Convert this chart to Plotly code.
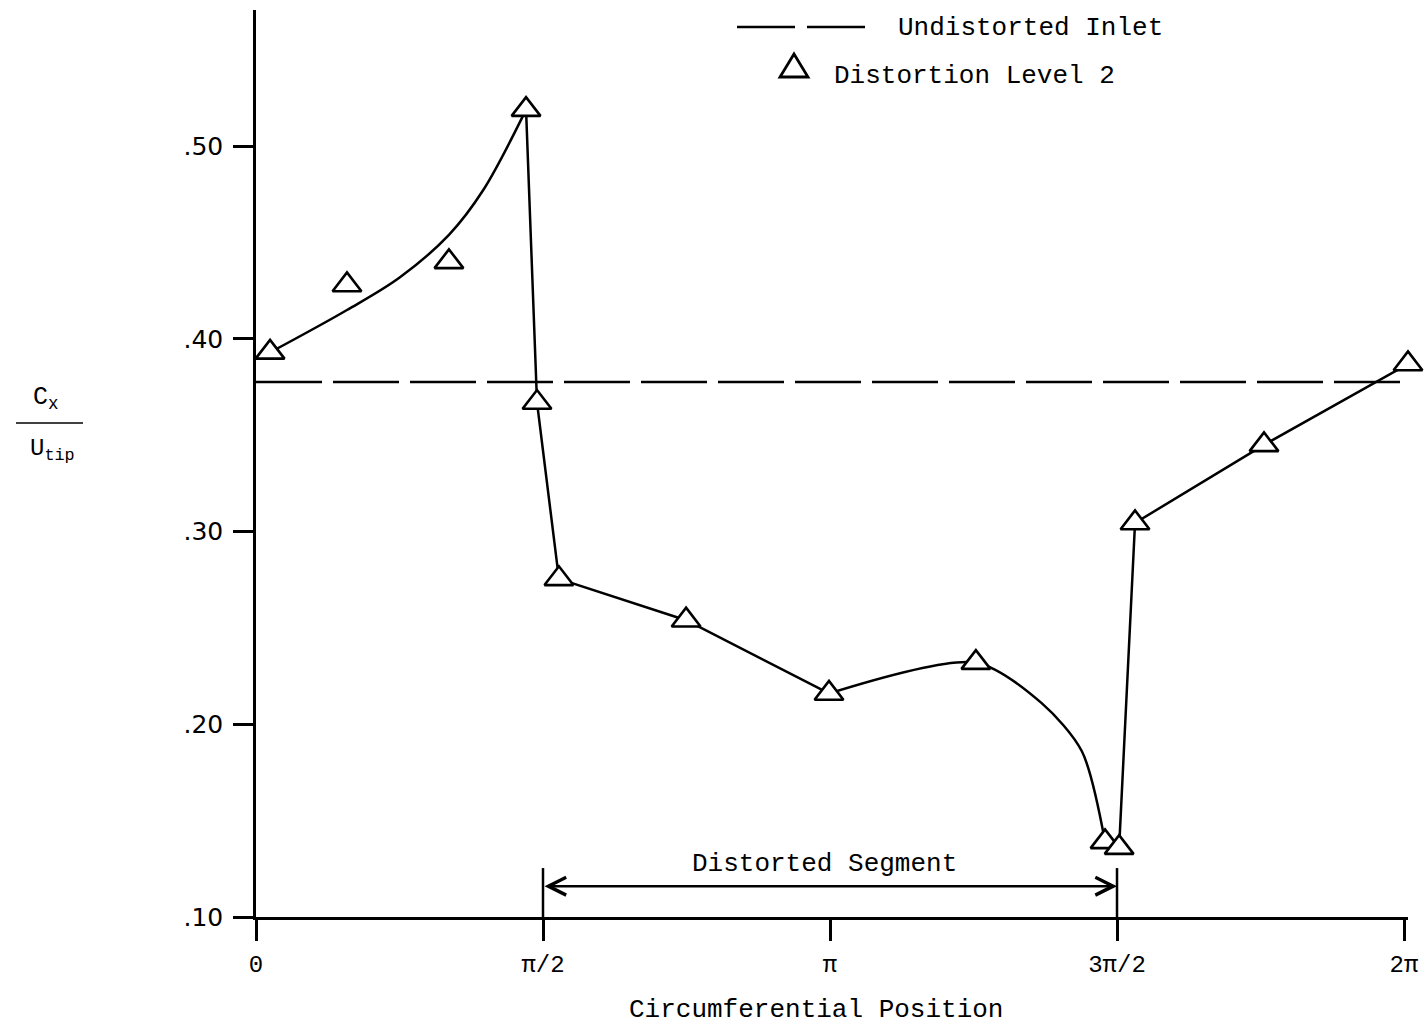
import math
import plotly.graph_objects as go

PI = math.pi

# Measured stations: circumferential position (rad) and Cx/Utip
theta = [0.077, 0.498, 1.056, 1.478, 1.538, 1.658, 2.354, 3.136,
         3.940, 4.647, 4.724, 4.811, 5.517, 6.305]
cx_utip = [0.393, 0.428, 0.440, 0.519, 0.367, 0.2755, 0.254, 0.216,
           0.232, 0.139, 0.136, 0.3045, 0.345, 0.387]

# Undistorted inlet reference level
undistorted_theta = [0.0, 6.33]
undistorted_value = [0.3776, 0.3776]

# Faired curve through the data, in pieces
rise_theta = [0.077, 0.498, 0.788, 1.056, 1.242, 1.478]
rise_value = [0.393, 0.415, 0.432, 0.454, 0.477, 0.519]

drop_theta = [1.478, 1.538, 1.658, 2.354, 3.136]
drop_value = [0.519, 0.367, 0.2755, 0.254, 0.216]

hump_theta = [3.136, 3.940, 4.300, 4.520, 4.647]
hump_value = [0.216, 0.232, 0.211, 0.186, 0.139]

recovery_theta = [4.724, 4.811, 5.517, 6.305]
recovery_value = [0.136, 0.3045, 0.345, 0.387]

# Axis ticks
x_tickvals = [0, PI / 2, PI, 3 * PI / 2, 2 * PI]
x_ticktext = ["0", "π/2", "π", "3π/2", "2π"]
y_tickvals = [0.10, 0.20, 0.30, 0.40, 0.50]
y_ticktext = [".10", ".20", ".30", ".40", ".50"]

# Distorted sector bounds and arrow level
segment_start = PI / 2
segment_end = 3 * PI / 2
segment_arrow_y = 0.116
segment_tick_top = 0.1254

MONO = "Liberation Mono"
INK = "black"
W, H = 1427, 1030
L, R, T, B = 256, 19, 10, 113
PW, PH = W - L - R, H - T - B


def pxx(x):
    return (x - L) / PW


def pxy(y):
    return (H - B - y) / PH


fig = go.Figure()

line_style = dict(color=INK, width=2.5)
fig.add_trace(go.Scatter(x=rise_theta, y=rise_value, mode="lines",
                         line=dict(shape="spline", smoothing=1.0, **line_style),
                         showlegend=False, hoverinfo="skip"))
fig.add_trace(go.Scatter(x=drop_theta, y=drop_value, mode="lines",
                         line=line_style, showlegend=False, hoverinfo="skip"))
fig.add_trace(go.Scatter(x=hump_theta, y=hump_value, mode="lines",
                         line=dict(shape="spline", smoothing=0.8, **line_style),
                         showlegend=False, hoverinfo="skip"))
fig.add_trace(go.Scatter(x=recovery_theta, y=recovery_value, mode="lines",
                         line=line_style, showlegend=False, hoverinfo="skip"))

fig.add_trace(go.Scatter(x=undistorted_theta, y=undistorted_value, mode="lines",
                         line=dict(color=INK, width=2.5, dash="66px,11px"),
                         name="Undistorted Inlet", showlegend=False))

fig.add_trace(go.Scatter(x=theta, y=cx_utip, mode="markers",
                         marker=dict(symbol="triangle-up", size=25, color="white",
                                     line=dict(color=INK, width=2.6)),
                         cliponaxis=False,
                         name="Distortion Level 2", showlegend=False))

shapes = [
    # sector bound ticks
    dict(type="line", xref="x", yref="y", x0=segment_start, x1=segment_start,
         y0=0.10, y1=segment_tick_top, line=dict(color=INK, width=2.5)),
    dict(type="line", xref="x", yref="y", x0=segment_end, x1=segment_end,
         y0=0.10, y1=segment_tick_top, line=dict(color=INK, width=2.5)),
    # legend: dashed line sample
    dict(type="line", xref="paper", yref="paper", x0=pxx(737), x1=pxx(873),
         y0=pxy(27), y1=pxy(27), line=dict(color=INK, width=2.5, dash="58px,12px")),
    # legend: triangle sample
    dict(type="path", xref="paper", yref="paper",
         path=(f"M{pxx(794)},{pxy(54)} L{pxx(808)},{pxy(77)} "
               f"L{pxx(780)},{pxy(77)} Z"),
         line=dict(color=INK, width=2.8), fillcolor="white"),
    # fraction bar of the y label
    dict(type="line", xref="paper", yref="paper", x0=pxx(16), x1=pxx(83),
         y0=pxy(423), y1=pxy(423), line=dict(color=INK, width=1.5)),
]

annotations = [
    dict(xref="paper", yref="paper", x=pxx(896), y=pxy(28), xanchor="left",
         yanchor="middle", text="Undistorted Inlet", showarrow=False,
         font=dict(family=MONO, size=26, color=INK)),
    dict(xref="paper", yref="paper", x=pxx(832), y=pxy(76), xanchor="left",
         yanchor="middle", text="Distortion Level 2", showarrow=False,
         font=dict(family=MONO, size=26, color=INK)),
    dict(xref="paper", yref="paper", x=pxx(824), y=pxy(864), xanchor="center",
         yanchor="middle", text="Distorted Segment", showarrow=False,
         font=dict(family=MONO, size=26, color=INK)),
    dict(xref="x", yref="y", x=segment_end, y=segment_arrow_y,
         axref="x", ayref="y", ax=segment_start, ay=segment_arrow_y,
         text="", showarrow=True, arrowside="end+start",
         arrowhead=5, startarrowhead=5, arrowsize=1.4, startarrowsize=1.4,
         arrowwidth=2.5, arrowcolor=INK),
    dict(xref="paper", yref="paper", x=pxx(816), y=pxy(1010), xanchor="center",
         yanchor="middle", text="Circumferential Position", showarrow=False,
         font=dict(family=MONO, size=26, color=INK)),
    dict(xref="paper", yref="paper", x=pxx(46), y=pxy(399), xanchor="center",
         yanchor="middle", text="C<sub>x</sub>", showarrow=False,
         font=dict(family=MONO, size=25, color=INK)),
    dict(xref="paper", yref="paper", x=pxx(52), y=pxy(450), xanchor="center",
         yanchor="middle", text="U<sub>tip</sub>", showarrow=False,
         font=dict(family=MONO, size=24, color=INK)),
]

fig.update_layout(
    width=W, height=H,
    margin=dict(l=L, r=R, t=T, b=B),
    paper_bgcolor="white", plot_bgcolor="white",
    shapes=shapes, annotations=annotations,
    xaxis=dict(range=[0, 6.305], tickvals=x_tickvals, ticktext=x_ticktext,
               showgrid=False, zeroline=False, showline=True,
               linecolor=INK, linewidth=2.5, ticks="outside", ticklen=21,
               tickwidth=2.5, tickcolor=INK, ticklabelstandoff=2,
               tickfont=dict(family=MONO, size=24, color=INK)),
    yaxis=dict(range=[0.10, 0.5707], tickvals=y_tickvals, ticktext=y_ticktext,
               showgrid=False, zeroline=False, showline=True,
               linecolor=INK, linewidth=2.5, ticks="outside", ticklen=20,
               tickwidth=2.5, tickcolor=INK, ticklabelstandoff=5,
               tickfont=dict(family="DejaVu Sans", size=25, color=INK)),
)

fig.write_html("out.html")
